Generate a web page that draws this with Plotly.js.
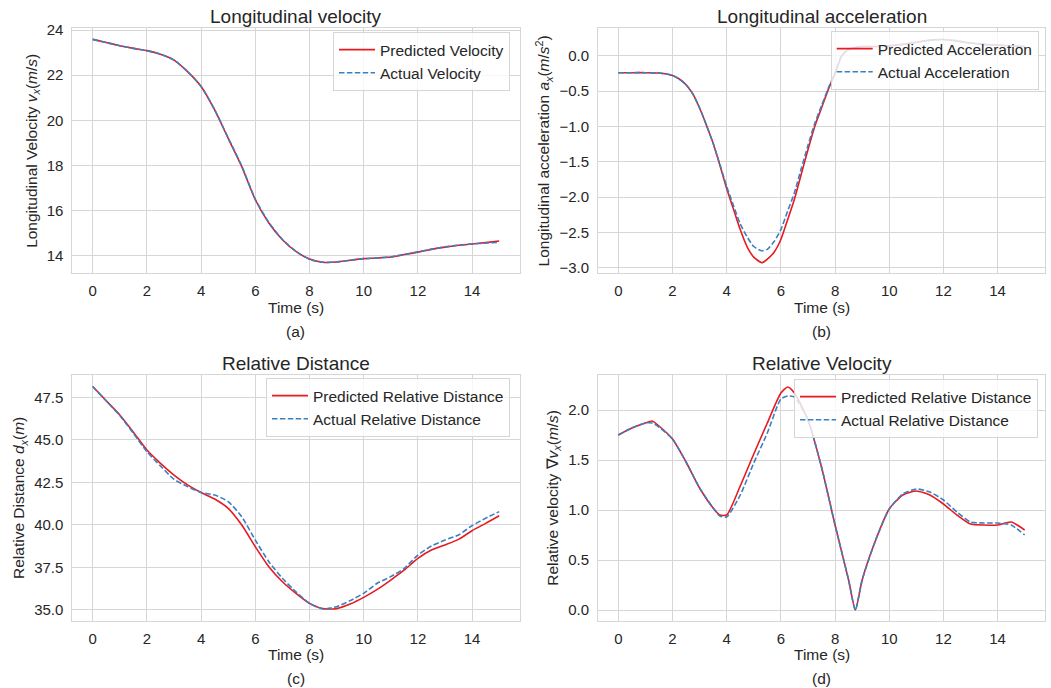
<!DOCTYPE html>
<html>
<head>
<meta charset="utf-8">
<script src="https://cdn.plot.ly/plotly-3.0.1.min.js"></script>
<style>html,body{margin:0;padding:0;background:#fff;}#chart{width:1051px;height:688px;}</style>
</head>
<body>
<div id="chart"></div>
<script>
// ---- (a) Longitudinal velocity ----
const timeA = [0,0.5,1,1.5,2,2.5,3,3.5,4,4.5,5,5.5,6,6.5,7,7.5,8,8.5,9,9.5,10,10.5,11,11.5,12,12.5,13,13.5,14,14.5,15];
const velPred = [23.59,23.45,23.31,23.19,23.09,22.93,22.67,22.16,21.50,20.46,19.20,17.95,16.48,15.45,14.71,14.19,13.85,13.71,13.72,13.80,13.87,13.90,13.94,14.05,14.16,14.28,14.38,14.46,14.52,14.58,14.65];
const velAct  = [23.59,23.45,23.31,23.19,23.09,22.93,22.67,22.16,21.50,20.47,19.22,17.97,16.50,15.47,14.72,14.19,13.84,13.71,13.72,13.80,13.87,13.90,13.95,14.06,14.17,14.29,14.39,14.47,14.52,14.56,14.59];

// ---- (b) Longitudinal acceleration ----
const timeB = [0,0.5,1,1.5,2,2.25,2.5,2.75,3,3.25,3.5,3.75,4,4.25,4.5,4.75,5,5.3,5.5,5.75,6,6.25,6.5,6.75,7,7.25,7.5,7.75,8,8.25,8.5,9,9.5,10,10.5,11,11.5,12,12.5,13,13.5,14,14.5,15];
const accPred = [-0.24,-0.24,-0.24,-0.245,-0.28,-0.33,-0.41,-0.54,-0.74,-0.98,-1.24,-1.55,-1.88,-2.17,-2.46,-2.70,-2.85,-2.93,-2.88,-2.78,-2.60,-2.32,-2.03,-1.68,-1.33,-1.00,-0.74,-0.48,-0.25,0.00,0.09,0.13,0.13,0.14,0.16,0.19,0.22,0.23,0.21,0.18,0.16,0.15,0.14,0.13];
const accAct  = [-0.24,-0.24,-0.24,-0.245,-0.28,-0.33,-0.41,-0.54,-0.74,-0.98,-1.24,-1.54,-1.85,-2.12,-2.38,-2.56,-2.70,-2.76,-2.74,-2.63,-2.46,-2.20,-1.94,-1.60,-1.27,-0.96,-0.71,-0.46,-0.24,0.01,0.09,0.13,0.13,0.14,0.16,0.19,0.22,0.23,0.21,0.18,0.16,0.15,0.14,0.13];

// ---- (c) Relative distance ----
const timeC = [0,0.5,1,1.5,2,2.5,3,3.5,4,4.5,5,5.5,6,6.5,7,7.5,8,8.5,9,9.5,10,10.5,11,11.5,12,12.5,13,13.5,14,14.5,15];
const distPred = [48.13,47.30,46.46,45.45,44.40,43.62,42.93,42.35,41.90,41.52,40.97,39.99,38.72,37.54,36.66,35.98,35.39,35.08,35.08,35.35,35.74,36.21,36.76,37.35,38.03,38.52,38.82,39.15,39.66,40.09,40.54];
const distAct  = [48.13,47.28,46.43,45.38,44.30,43.46,42.68,42.25,41.90,41.76,41.37,40.48,39.11,37.84,36.86,36.07,35.39,35.06,35.19,35.55,35.98,36.57,36.96,37.45,38.23,38.76,39.11,39.41,39.96,40.39,40.78];

// ---- (d) Relative velocity ----
const timeD = [0,0.5,1,1.25,1.5,2,2.5,3,3.5,3.75,4,4.5,5,5.5,6,6.25,6.5,7,7.5,8,8.5,8.75,9,9.5,10,10.5,11,11.5,12,12.5,13,13.5,14,14.5,15];
const rvPred = [1.75,1.82,1.87,1.89,1.84,1.71,1.48,1.22,1.02,0.95,0.95,1.24,1.56,1.87,2.17,2.23,2.17,1.90,1.43,0.85,0.30,0.00,0.30,0.70,1.01,1.15,1.19,1.15,1.06,0.95,0.86,0.85,0.85,0.88,0.80];
const rvAct  = [1.75,1.82,1.87,1.87,1.83,1.71,1.48,1.22,1.02,0.94,0.93,1.15,1.47,1.77,2.11,2.14,2.13,1.90,1.43,0.85,0.30,0.00,0.30,0.70,1.01,1.16,1.21,1.18,1.10,0.98,0.88,0.87,0.87,0.85,0.75];

const xTicks = [0,2,4,6,8,10,12,14];
const titles = ["Longitudinal velocity","Longitudinal acceleration","Relative Distance","Relative Velocity"];
const panelLabels = ["(a)","(b)","(c)","(d)"];
const xTitle = "Time (s)";
const legendNames = [
  ["Predicted Velocity","Actual Velocity"],
  ["Predicted Acceleration","Actual Acceleration"],
  ["Predicted Relative Distance","Actual Relative Distance"],
  ["Predicted Relative Distance","Actual Relative Distance"]
];
const yTitles = [
  "Longitudinal Velocity <i>v</i><sub><i>x</i></sub>(<i>m</i>/<i>s</i>)",
  "Longitudinal acceleration <i>a</i><sub><i>x</i></sub>(<i>m</i>/<i>s</i><sup>2</sup>)",
  "Relative Distance <i>d</i><sub><i>x</i></sub>(<i>m</i>)",
  "Relative velocity ∇<i>v</i><sub><i>x</i></sub>(<i>m</i>/<i>s</i>)"
];

const RED = '#e8191f';
const BLUE = '#3a7fc0';
const TXT = '#262626';
const GRID = '#d6d6d6';
const FONT = 'Liberation Sans, Arial, sans-serif';

const series = [
  [timeA, velPred, velAct],
  [timeB, accPred, accAct],
  [timeC, distPred, distAct],
  [timeD, rvPred, rvAct]
];

const traces = [];
series.forEach((s, i) => {
  const ax = i === 0 ? '' : String(i + 1);
  const lg = i === 0 ? 'legend' : 'legend' + (i + 1);
  traces.push({
    x: s[0], y: s[1], type: 'scatter', mode: 'lines', name: legendNames[i][0],
    xaxis: 'x' + ax, yaxis: 'y' + ax, legend: lg,
    line: {color: RED, width: 1.6, shape: 'spline', smoothing: 0.6}
  });
  traces.push({
    x: s[0], y: s[2], type: 'scatter', mode: 'lines', name: legendNames[i][1],
    xaxis: 'x' + ax, yaxis: 'y' + ax, legend: lg,
    line: {color: BLUE, width: 1.6, dash: '5.5px,2.4px', shape: 'spline', smoothing: 0.6}
  });
});

const W = 1051, H = 688;
const xDomL = [72.4 / W, 519.5 / W];
const xDomR = [598 / W, 1045 / W];
const yDomT = [1 - 273.3 / H, 1 - 28.3 / H];
const yDomB = [1 - 620.7 / H, 1 - 375 / H];

function xa(dom, anchor) {
  return {
    domain: dom, anchor: anchor, range: [-0.75, 15.75],
    tickvals: xTicks, ticks: 'outside', ticklen: 4, tickcolor: 'rgba(0,0,0,0)',
    showgrid: true, gridcolor: GRID, gridwidth: 1, zeroline: false,
    showline: true, mirror: true, linecolor: GRID, linewidth: 1,
    tickfont: {size: 15, color: TXT, family: FONT}
  };
}
function ya(dom, anchor, range, dtick, tick0, fmt, title) {
  return {
    domain: dom, anchor: anchor, range: range, dtick: dtick, tick0: tick0, tickformat: fmt,
    ticks: 'outside', ticklen: 5, tickcolor: 'rgba(0,0,0,0)',
    showgrid: true, gridcolor: GRID, gridwidth: 1, zeroline: false,
    showline: true, mirror: true, linecolor: GRID, linewidth: 1,
    tickfont: {size: 15, color: TXT, family: FONT},
    title: {text: title, font: {size: 15.5, color: TXT, family: FONT}, standoff: 5}
  };
}
function lg(x, y) {
  return {
    x: x, y: y, xanchor: 'right', yanchor: 'top', xref: 'paper', yref: 'paper',
    bgcolor: 'rgba(255,255,255,0.8)', bordercolor: GRID, borderwidth: 1,
    font: {size: 15.5, color: TXT, family: FONT}, itemwidth: 36, tracegroupgap: 0
  };
}

const annotations = [];
const cx = [(72.4 + 519.5) / 2 / W, (598 + 1045) / 2 / W];
const titleY = [16, 16, 363, 363];
const xTitleY = [307, 307, 654, 654];
const labY = [331, 331, 678, 678];
for (let i = 0; i < 4; i++) {
  annotations.push({text: titles[i], x: cx[i % 2], y: 1 - titleY[i] / H, xref: 'paper', yref: 'paper',
    xanchor: 'center', yanchor: 'middle', showarrow: false, font: {size: 19, color: TXT, family: FONT}});
  annotations.push({text: xTitle, x: cx[i % 2], y: 1 - xTitleY[i] / H, xref: 'paper', yref: 'paper',
    xanchor: 'center', yanchor: 'middle', showarrow: false, borderpad: 0, font: {size: 15.5, color: TXT, family: FONT}});
  annotations.push({text: panelLabels[i], x: cx[i % 2], y: 1 - labY[i] / H, xref: 'paper', yref: 'paper',
    xanchor: 'center', yanchor: 'middle', showarrow: false, borderpad: 0, font: {size: 15.5, color: TXT, family: FONT}});
}

const layout = {
  width: W, height: H, margin: {l: 0, r: 0, t: 0, b: 0},
  paper_bgcolor: '#ffffff', plot_bgcolor: '#ffffff',
  font: {family: FONT, color: TXT},
  showlegend: true,
  xaxis: xa(xDomL, 'y'),
  yaxis: ya(yDomT, 'x', [13.22, 24.08], 2, 14, 'd', yTitles[0]),
  xaxis2: xa(xDomR, 'y2'),
  yaxis2: ya(yDomT, 'x2', [-3.079, 0.388], 0.5, 0, '.1f', yTitles[1]),
  xaxis3: xa(xDomL, 'y3'),
  yaxis3: ya(yDomB, 'x3', [34.37, 48.81], 2.5, 35, '.1f', yTitles[2]),
  xaxis4: xa(xDomR, 'y4'),
  yaxis4: ya(yDomB, 'x4', [-0.107, 2.35], 0.5, 0, '.1f', yTitles[3]),
  legend: lg(510 / W, 1 - 32 / H),
  legend2: lg(1038.7 / W, 1 - 31 / H),
  legend3: lg(510 / W, 1 - 378 / H),
  legend4: lg(1038 / W, 1 - 379 / H),
  annotations: annotations
};

Plotly.newPlot('chart', traces, layout, {displayModeBar: false, staticPlot: true});
</script>
</body>
</html>
